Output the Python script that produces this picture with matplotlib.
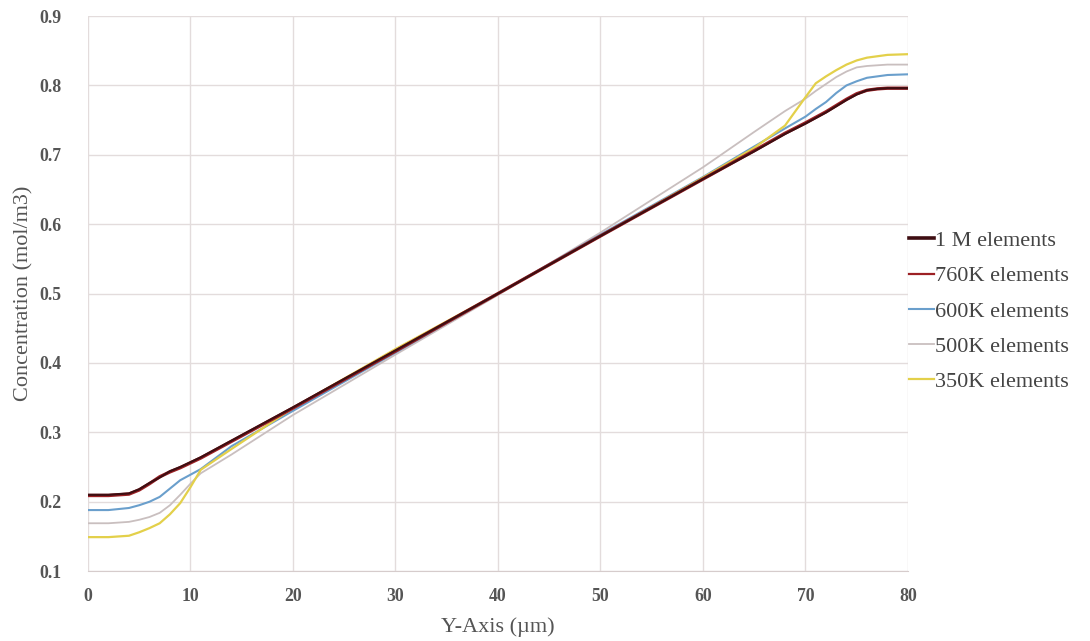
import matplotlib
matplotlib.use("Agg")
import matplotlib.pyplot as plt

x = [0, 2, 4, 5, 6, 7, 8, 9, 10, 11, 12, 14, 20, 30, 40, 50, 60, 65, 68, 70, 71, 72, 73, 74, 75, 76, 77, 78, 80]

y_1m = [0.210, 0.210, 0.212, 0.218, 0.227, 0.235, 0.244, 0.250, 0.257, 0.264, 0.272, 0.288, 0.336, 0.418, 0.500, 0.583, 0.665, 0.705, 0.730, 0.745, 0.753, 0.761, 0.770, 0.779, 0.787, 0.793, 0.795, 0.796, 0.796]
y_760k = [0.209, 0.209, 0.211, 0.217, 0.226, 0.236, 0.243, 0.249, 0.256, 0.263, 0.271, 0.287, 0.335, 0.417, 0.500, 0.583, 0.665, 0.706, 0.731, 0.746, 0.754, 0.762, 0.771, 0.780, 0.788, 0.793, 0.795, 0.796, 0.796]
y_600k = [0.188, 0.188, 0.191, 0.195, 0.200, 0.207, 0.219, 0.231, 0.239, 0.247, 0.258, 0.280, 0.331, 0.415, 0.500, 0.585, 0.668, 0.712, 0.738, 0.755, 0.766, 0.776, 0.789, 0.800, 0.806, 0.811, 0.813, 0.815, 0.816]
y_500k = [0.169, 0.169, 0.171, 0.174, 0.178, 0.184, 0.195, 0.210, 0.226, 0.241, 0.250, 0.268, 0.325, 0.412, 0.498, 0.588, 0.682, 0.733, 0.763, 0.781, 0.792, 0.802, 0.812, 0.820, 0.826, 0.828, 0.829, 0.830, 0.830]
y_350k = [0.149, 0.149, 0.151, 0.156, 0.162, 0.169, 0.182, 0.198, 0.221, 0.246, 0.256, 0.276, 0.335, 0.420, 0.500, 0.583, 0.667, 0.710, 0.742, 0.783, 0.803, 0.813, 0.822, 0.830, 0.836, 0.840, 0.842, 0.844, 0.845]

labels = ["1 M elements", "760K elements", "600K elements", "500K elements", "350K elements"]
colors = ["#3e0e12", "#9c2024", "#6a9fcc", "#c9bfbf", "#e3d04a"]
widths = [1.6, 2.4, 1.5, 1.3, 1.6]
legend_widths = [2.6, 1.6, 1.5, 1.3, 1.6]

plt.rcParams['font.family'] = ['Liberation Serif', 'DejaVu Serif']

fig = plt.figure(figsize=(10.9, 6.41), dpi=100)
ax = fig.add_axes([0.0807, 0.109, 0.7523, 0.866])

series = [y_1m, y_760k, y_600k, y_500k, y_350k]
order = [3, 2, 4, 1, 0]
lines = {}
for z, i in enumerate(order):
    ln, = ax.plot(x, series[i], color=colors[i], lw=widths[i], label=labels[i], zorder=3 + z)
    lines[i] = ln

ax.set_xlim(0, 80)
ax.set_ylim(0.1, 0.9)
ax.set_xticks(range(0, 81, 10))
ax.set_yticks([0.1, 0.2, 0.3, 0.4, 0.5, 0.6, 0.7, 0.8, 0.9])
ax.set_yticklabels(["0.1", "0.2", "0.3", "0.4", "0.5", "0.6", "0.7", "0.8", "0.9"])
ax.grid(True, color="#e3dcdc", lw=1.0)
ax.set_axisbelow(True)
for s in ["top", "right", "left"]:
    ax.spines[s].set_visible(False)
ax.spines["bottom"].set_color("#d6cccc")
ax.tick_params(length=0, labelsize=12.8, colors="#555555")
ax.tick_params(axis="x", pad=12)
ax.tick_params(axis="y", pad=19)
for lab in ax.get_xticklabels() + ax.get_yticklabels():
    lab.set_fontweight("bold")

ax.set_xlabel("Y-Axis (µm)", fontsize=16, color="#555555", labelpad=9)
ax.set_ylabel("Concentration (mol/m3)", fontsize=16, color="#555555", labelpad=4)

handles = [lines[i] for i in range(5)]
leg = ax.legend(handles, labels, loc="center left", bbox_to_anchor=(0.977, 0.468),
                frameon=False, fontsize=16, handlelength=1.1, handletextpad=0.05,
                labelspacing=0.66, labelcolor="#444444")
for h, w in zip(leg.legend_handles, legend_widths):
    h.set_linewidth(w)

fig.savefig("out.png", dpi=100)
